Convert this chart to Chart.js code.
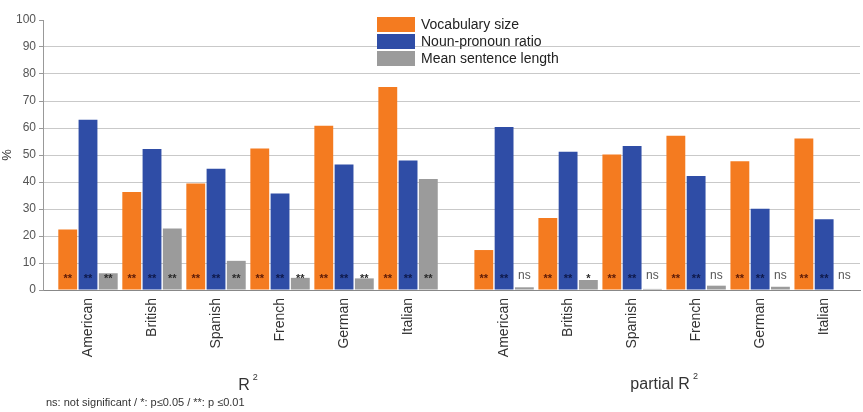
<!DOCTYPE html>
<html>
<head>
<meta charset="utf-8">
<script src="https://cdn.jsdelivr.net/npm/chart.js@4"></script>
<style>
  body { margin: 0; background: #fff; }
</style>
</head>
<body>
<canvas id="langChart" width="863" height="412"></canvas>
<script>
// values (percent)
const languages = ['American', 'British', 'Spanish', 'French', 'German', 'Italian'];
const seriesNames = ['Vocabulary size', 'Noun-pronoun ratio', 'Mean sentence length'];

const vocabR2 = [22.4, 36.3, 39.4, 52.4, 60.8, 75.2];
const nounR2 = [63.1, 52.2, 44.9, 35.7, 46.5, 48.0];
const sentR2 = [6.2, 22.8, 10.8, 4.5, 4.3, 41.1];

const vocabPartial = [14.8, 26.7, 50.2, 57.1, 47.7, 56.1];
const nounPartial = [60.4, 51.2, 53.3, 42.2, 30.1, 26.2];
const sentPartial = [1.0, 3.7, 0.4, 1.6, 1.2, 0.0];

const sigVocab = ['**', '**', '**', '**', '**', '**', '**', '**', '**', '**', '**', '**'];
const sigNoun = ['**', '**', '**', '**', '**', '**', '**', '**', '**', '**', '**', '**'];
const sigSent = ['**', '**', '**', '**', '**', '**', 'ns', '*', 'ns', 'ns', 'ns', 'ns'];

const yTicks = [0, 10, 20, 30, 40, 50, 60, 70, 80, 90, 100];
const groupTitles = ['R', 'partial R'];
const footnote = 'ns: not significant / *: p\u22640.05 / **: p \u22640.01';

const colors = ['#f47b20', '#2f4da6', '#9b9b9b'];
const sigColors = ['#5a1a08', '#0e1848', '#2a2a2a'];
const FONT = "'Liberation Sans', Arial, sans-serif";

// slot positions on a linear x scale: second group shifted by half a slot gap
const GAP = 6.5;
const slots = languages.map((l, i) => i).concat(languages.map((l, i) => i + GAP));
const slotLabels = languages.concat(languages);

function toPoints(a, b) {
    return a.concat(b).map((v, i) => ({ x: slots[i], y: v }));
}

const sigLabels = [sigVocab, sigNoun, sigSent];

const sigPlugin = {
    id: 'sigPlugin',
    afterDatasetsDraw(chart) {
        const ctx = chart.ctx;
        const y = chart.scales.y.getPixelForValue(5);
        ctx.save();
        ctx.textAlign = 'center';
        ctx.textBaseline = 'middle';
        chart.data.datasets.forEach((ds, d) => {
            chart.getDatasetMeta(d).data.forEach((bar, i) => {
                const t = sigLabels[d][i];
                if (t === 'ns') {
                    ctx.font = '12px ' + FONT;
                    ctx.fillStyle = '#555';
                    ctx.fillText(t, bar.x, y - 1);
                } else {
                    ctx.font = 'bold 11px ' + FONT;
                    ctx.fillStyle = sigColors[d];
                    ctx.fillText(t, bar.x, y + 2);
                }
            });
        });
        ctx.restore();
    },
    afterDraw(chart) {
        const ctx = chart.ctx;
        const xs = chart.scales.x;
        ctx.save();
        // legend
        ctx.font = '14px ' + FONT;
        ctx.textBaseline = 'middle';
        ctx.textAlign = 'left';
        seriesNames.forEach((n, i) => {
            const top = 17 + i * 17;
            ctx.fillStyle = colors[i];
            ctx.fillRect(377, top, 38, 15);
            ctx.fillStyle = '#222';
            ctx.fillText(n, 421, top + 8);
        });
        // group titles with superscript 2
        const centers = [xs.getPixelForValue(2.5), xs.getPixelForValue(GAP + 2.5)];
        const ys = [390, 389];
        groupTitles.forEach((t, i) => {
            ctx.font = '16px ' + FONT;
            const w = ctx.measureText(t).width;
            const x0 = centers[i] - (w + 8) / 2;
            ctx.fillStyle = '#333';
            ctx.textAlign = 'left';
            ctx.textBaseline = 'alphabetic';
            ctx.fillText(t, x0, ys[i]);
            ctx.font = '9px ' + FONT;
            ctx.fillText('2', x0 + w + 3, ys[i] - 10);
        });
        // footnote
        ctx.font = '11px ' + FONT;
        ctx.fillStyle = '#333';
        ctx.fillText(footnote, 46, 406);
        ctx.restore();
    }
};

const ctx = document.getElementById('langChart').getContext('2d');
const langChart = new Chart(ctx, {
    type: 'bar',
    data: {
        datasets: [
            { label: seriesNames[0], data: toPoints(vocabR2, vocabPartial), backgroundColor: colors[0] },
            { label: seriesNames[1], data: toPoints(nounR2, nounPartial), backgroundColor: colors[1] },
            { label: seriesNames[2], data: toPoints(sentR2, sentPartial), backgroundColor: colors[2] }
        ]
    },
    options: {
        responsive: false,
        animation: false,
        categoryPercentage: 0.95,
        barPercentage: 0.93,
        layout: { padding: { top: 20, right: 3, left: 0, bottom: 0 } },
        plugins: {
            legend: { display: false },
            tooltip: { enabled: false }
        },
        scales: {
            x: {
                type: 'linear',
                offset: false,
                min: -0.703,
                max: 12.06,
                grid: { display: false, offset: false },
                border: { color: '#888' },
                afterBuildTicks: (scale) => {
                    scale.ticks = slots.map(v => ({ value: v }));
                },
                afterFit: (scale) => { scale.height = 122; },
                ticks: {
                    autoSkip: false,
                    minRotation: 90,
                    maxRotation: 90,
                    padding: 0,
                    color: '#333',
                    font: { family: FONT, size: 14 },
                    callback: (value) => {
                        const i = slots.indexOf(value);
                        return i >= 0 ? slotLabels[i] : '';
                    }
                }
            },
            y: {
                min: 0,
                max: 100,
                afterBuildTicks: (scale) => {
                    scale.ticks = yTicks.map(v => ({ value: v }));
                },
                afterFit: (scale) => { scale.width = 43; },
                border: { color: '#999' },
                grid: {
                    color: (c) => (c.tick && c.tick.value === 100 ? 'rgba(0,0,0,0)' : '#c9c9c9'),
                    tickColor: '#999',
                    tickLength: 4
                },
                ticks: {
                    padding: 3,
                    color: '#555',
                    font: { family: FONT, size: 12 }
                },
                title: {
                    display: true,
                    text: '%',
                    color: '#333',
                    padding: { top: 0, bottom: 4 },
                    font: { family: FONT, size: 13 }
                }
            }
        }
    },
    plugins: [sigPlugin]
});
</script>
</body>
</html>
